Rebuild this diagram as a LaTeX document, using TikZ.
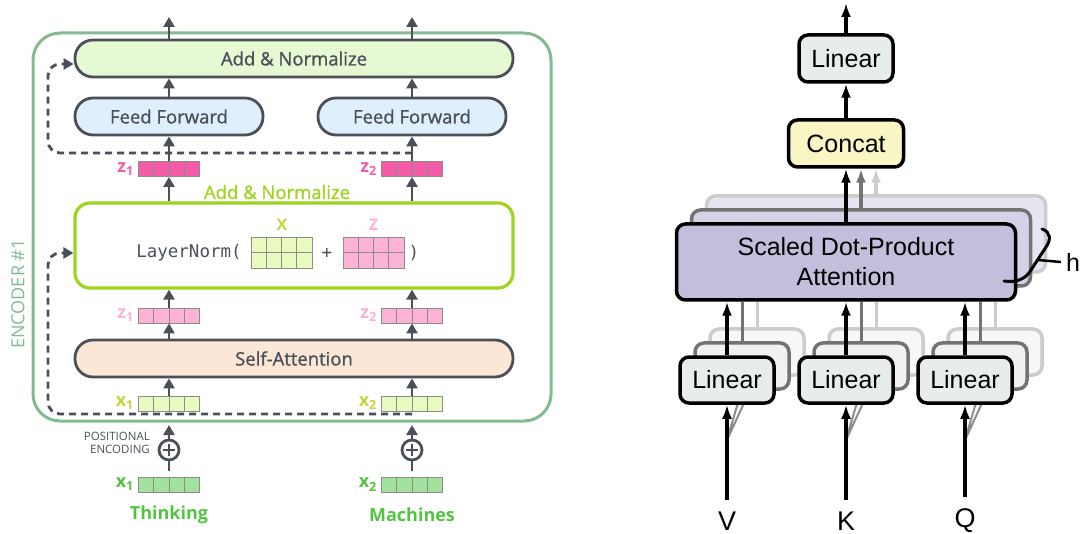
\documentclass[tikz,border=0pt]{standalone}
\usepackage{fontspec}
\setmainfont{Open Sans}
\newfontfamily\semib{Open Sans}[FakeBold=1]
\newfontfamily\helv{Liberation Sans}
\newfontfamily\monof{DejaVu Sans Mono}
\usetikzlibrary{arrows.meta}
\definecolor{ink}{RGB}{75,80,88}
\definecolor{encgreen}{RGB}{130,186,145}
\definecolor{anfill}{RGB}{231,249,211}
\definecolor{fffill}{RGB}{224,239,252}
\definecolor{safill}{RGB}{252,231,215}
\definecolor{lngreen}{RGB}{156,212,30}
\definecolor{zdark}{RGB}{245,92,168}
\definecolor{zlight}{RGB}{252,178,213}
\definecolor{xlight}{RGB}{233,250,190}
\definecolor{xlab}{RGB}{196,212,58}
\definecolor{xgreen}{RGB}{163,226,158}
\definecolor{wordgreen}{RGB}{82,196,64}
\definecolor{cellline}{RGB}{140,140,140}
\definecolor{linfill}{RGB}{232,237,234}
\definecolor{catfill}{RGB}{249,246,195}
\definecolor{attfill}{RGB}{196,189,220}
\begin{document}
\begin{tikzpicture}[x=1pt, y=-1pt, >={Triangle[length=10,width=11]},
    every node/.style={font=\semib\fontsize{18.5}{20}\selectfont, text=ink, inner sep=0},
    pill/.style={draw=ink, line width=2.8, rounded corners=18, minimum height=37},
    vec/.style={draw=cellline, line width=0.8, minimum width=61, minimum height=15,
        path picture={\foreach \k in {1,2,3} \draw[cellline, line width=0.8]
            ([xshift=\k*15.25]path picture bounding box.south west) -- ([xshift=\k*15.25]path picture bounding box.north west);}},
    mat/.style={draw=cellline, line width=0.8, minimum width=61, minimum height=31,
        path picture={\foreach \k in {1,2,3} \draw[cellline, line width=0.8]
            ([xshift=\k*15.25]path picture bounding box.south west) -- ([xshift=\k*15.25]path picture bounding box.north west);
            \draw[cellline, line width=0.8] (path picture bounding box.west) -- (path picture bounding box.east);}},
    veclabel/.style={font=\bfseries\fontsize{18}{20}\selectfont, anchor=east},
    addop/.style={circle, draw=ink, line width=2.8, minimum size=20,
        path picture={\draw[ink, line width=2.8] ([xshift=-6pt]path picture bounding box.center) -- ([xshift=6pt]path picture bounding box.center)
            ([yshift=-6pt]path picture bounding box.center) -- ([yshift=6pt]path picture bounding box.center);}},
    flow/.style={ink, line width=2.8, ->},
    skip/.style={ink, line width=2.8, dash pattern=on 7 off 5, rounded corners=12, ->},
    rbox/.style={draw=black, line width=3.5, rounded corners=9, font=\helv\fontsize{25}{30}\selectfont, text=black, align=center},
    rarrow/.style={line width=3.5, -{Latex[length=14,width=10]}}]
    \useasboundingbox (0,0) rectangle (1081,534);

    % Encoder frame
    \draw[encgreen, line width=3, rounded corners=27] (33,33) rectangle (551,421);
    \node[rotate=90, text=encgreen, font=\fontsize{18}{20}\selectfont] (enc) at (18,294) {ENCODER \#1};

    % Words, embeddings, positional encoding
    \node[font=\bfseries\fontsize{18}{20}\selectfont, text=wordgreen] (w1) at (169,515) {Thinking};
    \node[font=\bfseries\fontsize{18}{20}\selectfont, text=wordgreen] (w2) at (412,515) {Machines};
    \node[vec, fill=xgreen] (xb1) at (169,484.5) {};
    \node[vec, fill=xgreen] (xb2) at (412,484.5) {};
    \node[veclabel, text=wordgreen] (xb1l) at ([xshift=-4pt]xb1.west) {x\textsubscript{1}};
    \node[veclabel, text=wordgreen] (xb2l) at ([xshift=-4pt]xb2.west) {x\textsubscript{2}};
    \node[addop] (pe1) at (169,450) {};
    \node[addop] (pe2) at (412,450) {};
    \node[anchor=east, align=right, font=\fontsize{11.5}{13}\selectfont] (pel) at (150,443) {POSITIONAL\\ENCODING};
    \coordinate (in1) at (169,425);
    \coordinate (in2) at (412,425);
    \draw[ink, line width=2.8] ([yshift=6pt]xb1.north) -- (pe1.south);
    \draw[ink, line width=2.8] ([yshift=6pt]xb2.north) -- (pe2.south);
    \draw[flow] (pe1.north) -- (in1);
    \draw[flow] (pe2.north) -- (in2);

    % Self-attention
    \node[vec, fill=xlight] (xv1) at (169,403.5) {};
    \node[vec, fill=xlight] (xv2) at (412,403.5) {};
    \node[veclabel, text=xlab] (xv1l) at ([xshift=-4pt]xv1.west) {x\textsubscript{1}};
    \node[veclabel, text=xlab] (xv2l) at ([xshift=-4pt]xv2.west) {x\textsubscript{2}};
    \node[pill, fill=safill, minimum width=438] (sa) at (294,358.5) {Self-Attention};
    \node[vec, fill=zlight] (zl1) at (169,315.5) {};
    \node[vec, fill=zlight] (zl2) at (412,315.5) {};
    \node[veclabel, text=zlight] (zl1l) at ([xshift=-4pt]zl1.west) {z\textsubscript{1}};
    \node[veclabel, text=zlight] (zl2l) at ([xshift=-4pt]zl2.west) {z\textsubscript{2}};
    \draw[flow] (xv1.north) -- (xv1.north |- sa.south);
    \draw[flow] (xv2.north) -- (xv2.north |- sa.south);
    \draw[flow] (zl1.south |- sa.north) -- (zl1.south);
    \draw[flow] (zl2.south |- sa.north) -- (zl2.south);

    % Add & Normalize (LayerNorm)
    \node[draw=lngreen, line width=3.2, rounded corners=15, minimum width=438, minimum height=85] (ln) at (294,245.5) {};
    \node[text=lngreen] (lnl) at (277,192) {Add \& Normalize};
    \node[font=\monof\fontsize{17.5}{20}\selectfont] (lnf) at (189,253) {LayerNorm(};
    \node[mat, fill=xlight] (mx) at (281.5,252.5) {};
    \node[font=\monof\fontsize{17.5}{20}\selectfont] (plus) at (327,253) {+};
    \node[mat, fill=zlight] (mz) at (373.5,252.5) {};
    \node[font=\monof\fontsize{17.5}{20}\selectfont] (close) at (414,253) {)};
    \node[font=\bfseries\fontsize{16}{18}\selectfont, text=xlab] (mxl) at (282,225) {X};
    \node[font=\bfseries\fontsize{16}{18}\selectfont, text=zlight] (mzl) at (373.5,225) {Z};
    \draw[flow] (zl1.north) -- (zl1.north |- ln.south);
    \draw[flow] (zl2.north) -- (zl2.north |- ln.south);
    \coordinate (res0) at (412,414);
    \draw[skip] (res0) -- (48,414) -- (48,253) -- ([yshift=-7.5pt]ln.west);

    % Feed forward
    \node[vec, fill=zdark] (zz1) at (169,169) {};
    \node[vec, fill=zdark] (zz2) at (412,169) {};
    \node[veclabel, text=zdark] (zz1l) at ([xshift=-4pt]zz1.west) {z\textsubscript{1}};
    \node[veclabel, text=zdark] (zz2l) at ([xshift=-4pt]zz2.west) {z\textsubscript{2}};
    \node[pill, fill=fffill, minimum width=188] (ff1) at (169,116.5) {Feed Forward};
    \node[pill, fill=fffill, minimum width=188] (ff2) at (412,116.5) {Feed Forward};
    \node[pill, fill=anfill, minimum width=438] (an) at (294,58.5) {Add \& Normalize};
    \coordinate (out1) at (169,17);
    \coordinate (out2) at (412,17);
    \draw[flow] (zz1.south |- ln.north) -- (zz1.south);
    \draw[flow] (zz2.south |- ln.north) -- (zz2.south);
    \draw[flow] (zz1.north) -- (zz1.north |- ff1.south);
    \draw[flow] (zz2.north) -- (zz2.north |- ff2.south);
    \draw[flow] (ff1.north) -- (ff1.north |- an.south);
    \draw[flow] (ff2.north) -- (ff2.north |- an.south);
    \draw[flow] (an.north -| out1) -- (out1);
    \draw[flow] (an.north -| out2) -- (out2);
    \coordinate (res1) at (412,153);
    \draw[skip] (res1) -- (48,153) -- (48,64) -- ([yshift=-5.5pt]an.west);

    % Multi-head attention: inputs
    \node[font=\helv\fontsize{27}{30}\selectfont, text=black] (vl) at (727,521) {V};
    \node[font=\helv\fontsize{27}{30}\selectfont, text=black] (kl) at (846,521) {K};
    \node[font=\helv\fontsize{27}{30}\selectfont, text=black] (ql) at (965,521) {Q};
    \draw[black!45, line width=2] (727,440) -- (742,389) (727,440) -- (757,375);
    \draw[black!45, line width=2] (846,440) -- (861,389) (846,440) -- (876,375);
    \draw[black!45, line width=2] (965,440) -- (980,389) (965,440) -- (995,375);

    % Linear projections (h copies)
    \node[rbox, draw=black!20, fill=linfill!40, minimum width=94, minimum height=46] (lv3) at (757,352) {};
    \node[rbox, draw=black!20, fill=linfill!40, minimum width=94, minimum height=46] (lk3) at (876,352) {};
    \node[rbox, draw=black!20, fill=linfill!40, minimum width=94, minimum height=46] (lq3) at (995,352) {};
    \node[rbox, draw=black!55, fill=linfill!70, minimum width=94, minimum height=46] (lv2) at (742,366) {};
    \node[rbox, draw=black!55, fill=linfill!70, minimum width=94, minimum height=46] (lk2) at (861,366) {};
    \node[rbox, draw=black!55, fill=linfill!70, minimum width=94, minimum height=46] (lq2) at (980,366) {};
    \node[rbox, fill=linfill, minimum width=94, minimum height=46] (lv) at (727,380) {Linear};
    \node[rbox, fill=linfill, minimum width=94, minimum height=46] (lk) at (846,380) {Linear};
    \node[rbox, fill=linfill, minimum width=94, minimum height=46] (lq) at (965,380) {Linear};
    \draw[rarrow] ([yshift=12pt]vl.north) -- (lv.south);
    \draw[rarrow] ([yshift=12pt]kl.north) -- (lk.south);
    \draw[rarrow] ([yshift=12pt]ql.north) -- (lq.south);

    % Scaled dot-product attention (h copies)
    \node[rbox, draw=black!20, fill=attfill!40, minimum width=339, minimum height=76] (att3) at (876,234) {};
    \node[rbox, draw=black!55, fill=attfill!70, minimum width=339, minimum height=76] (att2) at (861,248) {};
    \node[rbox, fill=attfill, minimum width=339, minimum height=76] (att) at (846,262) {Scaled Dot-Product\\Attention};
    \draw[black!20, line width=3] (lv3.north) -- (lv3.north |- att.south) (lk3.north) -- (lk3.north |- att.south) (lq3.north) -- (lq3.north |- att.south);
    \draw[black!55, line width=3] (lv2.north) -- (lv2.north |- att.south) (lk2.north) -- (lk2.north |- att.south) (lq2.north) -- (lq2.north |- att.south);
    \draw[rarrow] (lv.north) -- (lv.north |- att.south);
    \draw[rarrow] (lk.north) -- (lk.north |- att.south);
    \draw[rarrow] (lq.north) -- (lq.north |- att.south);

    % h brace
    \node[font=\helv\fontsize{25}{30}\selectfont, text=black] (hl) at (1073,262) {h};
    \draw[line width=3, line cap=round] (1042,229) .. controls (1051,232) and (1051,240) .. (1046,247) -- (1031,270) .. controls (1026,279) and (1016,283) .. (1004,281);
    \coordinate (hb) at (1038,260);
    \draw[line width=2.5] (hb) -- ([xshift=-5pt]hl.west);

    % Concat and output
    \node[rbox, fill=catfill, minimum width=115, minimum height=47] (cat) at (846,143.5) {Concat};
    \node[rbox, fill=linfill, minimum width=94, minimum height=47] (lin) at (846,58.5) {Linear};
    \coordinate (out) at (846,3);
    \draw[rarrow, black!20] (att3.north) -- (att3.north |- cat.south);
    \draw[rarrow, black!55] (att2.north) -- (att2.north |- cat.south);
    \draw[rarrow] (att.north) -- (cat.south);
    \draw[rarrow] (cat.north) -- (lin.south);
    \draw[rarrow] (lin.north) -- (out);
\end{tikzpicture}
\end{document}
